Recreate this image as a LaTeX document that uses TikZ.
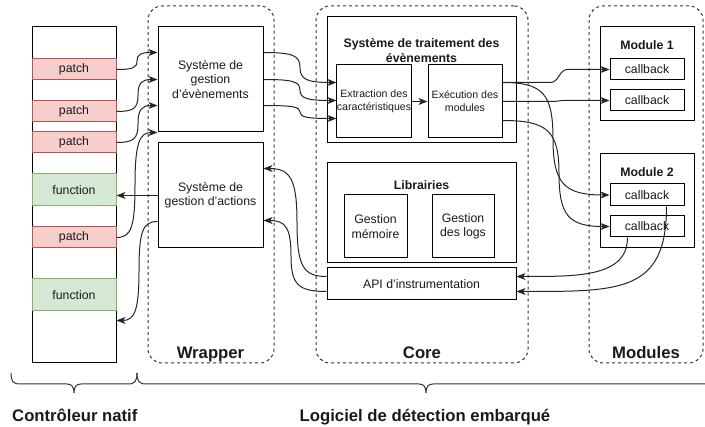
\documentclass[tikz,border=0pt]{standalone}
\usepackage{fontspec}
\setmainfont{Liberation Sans}
\usetikzlibrary{arrows.meta,calc}
\definecolor{patchfill}{HTML}{F8CECC}
\definecolor{patchdraw}{HTML}{B85450}
\definecolor{funcfill}{HTML}{D5E8D4}
\definecolor{funcdraw}{HTML}{82B366}
\definecolor{linegray}{HTML}{333333}
\definecolor{txt}{HTML}{1A1A1A}
\begin{document}
\begin{tikzpicture}[x=1pt,y=-1pt,
  font=\fontsize{12.3}{14.5}\selectfont,
  box/.style={draw=black, line width=1pt, fill=white, inner sep=0pt, align=center, text=txt},
  patchbox/.style={box, draw=patchdraw, fill=patchfill, minimum width=84pt, minimum height=21pt},
  funcbox/.style={box, draw=funcdraw, fill=funcfill, minimum width=84pt, minimum height=32pt},
  cbbox/.style={box, minimum width=74pt, minimum height=21pt},
  group/.style={draw=linegray, line width=1pt, dash pattern=on 3pt off 3pt, rounded corners=14pt, inner sep=0pt},
  smalltext/.style={font=\fontsize{10.6}{13}\selectfont},
  titlelbl/.style={font=\bfseries\fontsize{12.3}{14}\selectfont, text=txt, align=center, inner sep=0pt},
  biglbl/.style={font=\bfseries\fontsize{16.7}{20}\selectfont, text=txt, inner sep=0pt},
  arr/.style={draw=black!85, line width=1pt, -{Stealth[length=9pt,width=7pt,inset=2.5pt]}},
  scurve/.style={to path={
     .. controls ($(\tikztostart)!0.8!(\tikztostart -| #1)$) and ($(\tikztostart -| #1)!0.1!(\tikztotarget -| #1)$)
     .. ($(\tikztostart -| #1)!0.5!(\tikztotarget -| #1)$)
     .. controls ($(\tikztostart -| #1)!0.9!(\tikztotarget -| #1)$) and ($(\tikztotarget)!0.8!(\tikztotarget -| #1)$)
     .. (\tikztotarget) \tikztonodes}}
]
\useasboundingbox (0,0) rectangle (705,427);

% ---- dashed groups ----
\node[group, minimum width=126pt, minimum height=357pt] (wrapG) at (211,184.5) {};
\node[group, minimum width=212pt, minimum height=357pt] (coreG) at (422,184.5) {};
\node[group, minimum width=114pt, minimum height=357pt] (modG) at (646,184.5) {};
\node[biglbl, anchor=base] (wrapL) at (210.5,358.5) {Wrapper};
\node[biglbl, anchor=base] (coreL) at (422,358.5) {Core};
\node[biglbl, anchor=base] (modL) at (646,358.5) {Modules};

% ---- native controller column ----
\node[box, minimum width=84pt, minimum height=336pt] (col) at (74,195) {};
\node[patchbox] (p1) at (74,69.5) {patch};
\node[patchbox] (p2) at (74,111.5) {patch};
\node[patchbox] (p3) at (74,142.5) {patch};
\node[funcbox] (f1) at (74,190) {function};
\node[patchbox] (p4) at (74,237.5) {patch};
\node[funcbox] (f2) at (74,295) {function};

% ---- wrapper ----
\node[box, minimum width=105pt, minimum height=105pt] (ev) at (210.5,79.5) {Système de\\gestion\\d'évènements};
\node[box, minimum width=105pt, minimum height=105pt] (act) at (210.5,195.5) {Système de\\gestion d'actions};

% ---- core ----
\node[box, minimum width=189pt, minimum height=126pt] (st) at (421.5,80) {};
\node[titlelbl, anchor=base] (stT1) at (421.5,48) {Système de traitement des};
\node[titlelbl, anchor=base] (stT2) at (421.5,62.5) {évènements};
\node[box, smalltext, minimum width=74pt, minimum height=73pt] (ex) at (374,101.5) {Extraction des\\caractéristiques};
\node[box, smalltext, minimum width=74pt, minimum height=73pt] (exe) at (465,101.5) {Exécution des\\modules};
\node[box, minimum width=189pt, minimum height=100pt] (lib) at (421.5,213) {};
\node[titlelbl, anchor=base] (libT) at (421.5,190) {Librairies};
\node[box, minimum width=63pt, minimum height=63pt] (gm) at (375.5,226.5) {Gestion\\mémoire};
\node[box, minimum width=62pt, minimum height=63pt] (gl) at (463,226.5) {Gestion\\des logs};
\node[box, minimum width=189pt, minimum height=32pt] (api) at (421.5,284) {API d'instrumentation};

% ---- modules ----
\node[box, minimum width=94pt, minimum height=94pt] (m1) at (647,74) {};
\node[titlelbl, anchor=base] (m1T) at (647,50) {Module 1};
\node[cbbox] (cb1) at (647,69.5) {callback};
\node[cbbox] (cb2) at (647,100.5) {callback};
\node[box, minimum width=94pt, minimum height=94pt] (m2) at (647,201) {};
\node[titlelbl, anchor=base] (m2T) at (647,177) {Module 2};
\node[cbbox, minimum height=22pt] (cb3) at (647,195) {callback};
\node[cbbox] (cb4) at (647,226.5) {callback};

% ---- connection points ----
\coordinate (evin1) at ($(ev.north west)+(0,26)$);
\coordinate (evin2) at ($(ev.north west)+(0,53)$);
\coordinate (evin3) at ($(ev.north west)+(0,79)$);
\coordinate (evin4) at (ev.south west);
\coordinate (evout1) at ($(ev.north east)+(0,26)$);
\coordinate (evout2) at ($(ev.north east)+(0,53)$);
\coordinate (evout3) at ($(ev.north east)+(0,79)$);
\coordinate (exin1) at ($(ex.north west)+(0,18)$);
\coordinate (exin2) at ($(ex.north west)+(0,36)$);
\coordinate (exin3) at ($(ex.north west)+(0,54)$);
\coordinate (eo1) at ($(exe.north east)+(0,18)$);
\coordinate (eo2) at ($(exe.north east)+(0,37)$);
\coordinate (eo3) at ($(exe.north east)+(0,56)$);
\coordinate (actf1) at ($(act.north west)+(0,53)$);
\coordinate (actf2) at ($(act.north west)+(0,79)$);
\coordinate (colin) at ($(col.north east)+(0,294)$);
\coordinate (actin1) at ($(act.north east)+(0,26)$);
\coordinate (actin2) at ($(act.north east)+(0,78)$);
\coordinate (apiout1) at ($(api.north west)+(0,9)$);
\coordinate (apiout2) at ($(api.north west)+(0,24)$);
\coordinate (apiin1) at ($(api.north east)+(0,9)$);
\coordinate (apiin2) at ($(api.north east)+(0,24)$);
\coordinate (cb3out) at ($(cb3.south east)+(-18,0)$);
\coordinate (cb4out) at ($(cb4.south west)+(18,0)$);
% routing columns
\coordinate (colA) at (137,0);
\coordinate (colB) at (138,0);
\coordinate (colD) at (135,0);
\coordinate (colC) at (139,0);
\coordinate (colX) at (300,0);
\coordinate (colE) at (553,0);
\coordinate (colF) at (559,0);
\coordinate (colG) at (297,0);
\coordinate (colH) at (291,0);

% ---- connectors ----
\draw[arr] (p1.east) to[scurve=colA] (evin1);
\draw[arr] (p2.east) to[scurve=colB] (evin2);
\draw[arr] (p3.east) to[scurve=colB] (evin3);
\draw[arr] (p4.east) to[scurve=colD] (evin4);
\draw[arr] (actf1) -- (actf1 -| f1.east);
\draw[arr] (actf2) to[scurve=colC] (colin);

\draw[arr] (evout1) to[scurve=colX] (exin1);
\draw[arr] (evout2) to[scurve=colX] (exin2);
\draw[arr] (evout3) to[scurve=colX] (exin3);
\draw[arr] (ex.east) -- (exe.west);

\draw[arr] (eo1) -- ($(eo1)+(48,0)$) to[out=0,in=180] ($(cb1.west)+(-42,0)$) -- (cb1.west);
\draw[arr] (eo2) -- ($(eo2)+(50,0)$) to[out=0,in=180] ($(cb2.west)+(-46,0)$) -- (cb2.west);
\draw[arr] (eo1) to[scurve=colE] (cb3.west);
\draw[arr] (eo3) to[scurve=colF] (cb4.west);

\draw[arr] (cb3out) .. controls +(0,86) and +(104,0) .. (apiin2);
\draw[arr] (cb4out) .. controls +(0,40) and +(60,0) .. (apiin1);
\draw[arr] (apiout1) to[scurve=colG] (actin1);
\draw[arr] (apiout2) to[scurve=colH] (actin2);

% ---- braces ----
\draw[linegray, line width=1pt] (11,373) .. controls (11,381) and (13,384) .. (20,384) -- (67,384)
  .. controls (72,384) and (74,387) .. (74,393) .. controls (74,387) and (76,384) .. (81,384)
  -- (128,384) .. controls (135,384) and (137,381) .. (137,373);
\draw[linegray, line width=1pt] (137,373) .. controls (137,381) and (139,384) .. (146,384) -- (419,384)
  .. controls (424,384) and (426,387) .. (426,393) .. controls (426,387) and (428,384) .. (433,384)
  -- (710,384);
\node[biglbl, anchor=base west] (ctrlL) at (12,422) {Contrôleur natif};
\node[biglbl, anchor=base] (logL) at (425,422) {Logiciel de détection embarqué};
\end{tikzpicture}
\end{document}
